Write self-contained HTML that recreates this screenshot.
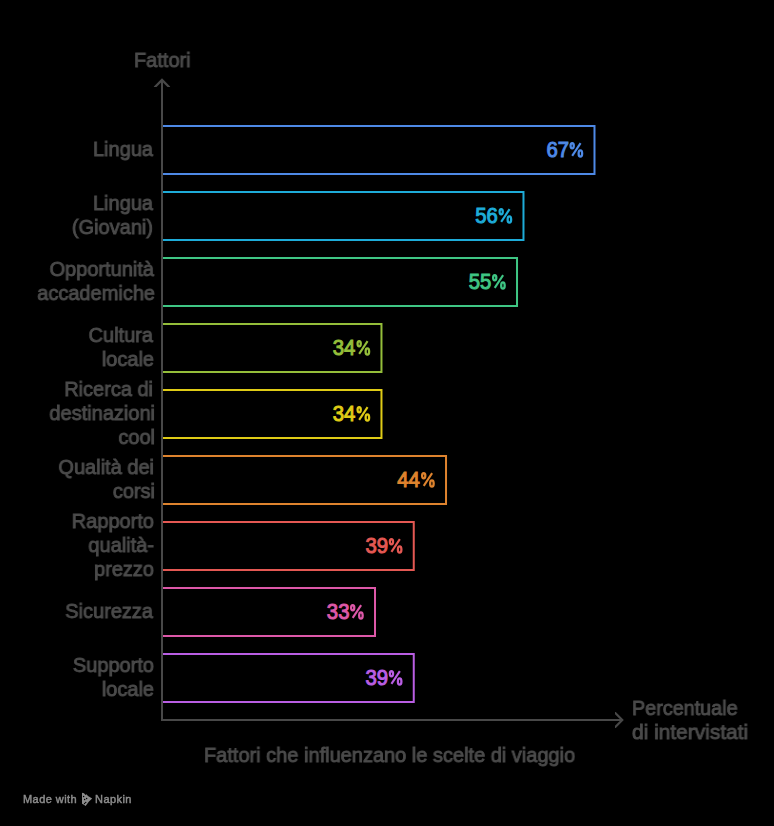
<!DOCTYPE html>
<html><head><meta charset="utf-8"><style>
html,body{margin:0;padding:0;background:#000;}
body{width:774px;height:826px;position:relative;overflow:hidden;font-family:"Liberation Sans",sans-serif;}
.lab,.t,.pct,.mw{will-change:transform;white-space:nowrap;position:absolute;}
.lab{width:300px;text-align:right;color:#4b4b4b;font-size:21.0px;line-height:24px;-webkit-text-stroke:0.9px #4b4b4b;transform:scaleX(0.952);transform-origin:100% 50%;}
.t{color:#4b4b4b;font-size:21.0px;line-height:24px;-webkit-text-stroke:0.9px #4b4b4b;transform:scaleX(0.952);transform-origin:0 50%;}
.pct{width:200px;text-align:right;font-size:21.5px;font-weight:bold;line-height:24px;transform:scaleX(0.865);transform-origin:100% 50%;}
.mw{font-size:11px;letter-spacing:0.45px;line-height:14px;color:#8c8c8c;-webkit-text-stroke:0.45px #8c8c8c;}
svg{position:absolute;left:0;top:0;}
</style></head><body>
<svg width="774" height="826" viewBox="0 0 774 826">
<path d="M161 126 H594.49 V174 H161" fill="none" stroke="#4E89E6" stroke-width="2"/><path d="M161 192 H523.48 V240 H161" fill="none" stroke="#1EABD8" stroke-width="2"/><path d="M161 258 H517.02 V306 H161" fill="none" stroke="#3FC684" stroke-width="2"/><path d="M161 324 H381.47 V372 H161" fill="none" stroke="#94BE3A" stroke-width="2"/><path d="M161 390 H381.47 V438 H161" fill="none" stroke="#DFCB16" stroke-width="2"/><path d="M161 456 H446.02 V504 H161" fill="none" stroke="#DE832E" stroke-width="2"/><path d="M161 522 H413.75 V570 H161" fill="none" stroke="#E45853" stroke-width="2"/><path d="M161 588 H375.01 V636 H161" fill="none" stroke="#DD58A8" stroke-width="2"/><path d="M161 654 H413.75 V702 H161" fill="none" stroke="#B95EE3" stroke-width="2"/>
<g stroke="#484848" stroke-width="2" fill="none" stroke-linejoin="miter" stroke-miterlimit="4">
<path d="M162 81 V721"/>
<path d="M161 720 H621"/>
</g>
<g fill="#484848">
<path d="M162 78.3 L170.1 86.4 L170.1 87 L167.5 87 L162 81.5 L156.5 87 L153.9 87 L153.9 86.4 Z"/>
<path d="M623.8 720 L615.8 712 L615 712 L615 714.2 L620.8 720 L615 725.8 L615 728 L615.8 728 Z"/>
</g>
<g font-family="Liberation Sans" font-weight="normal" font-size="21.5"><text transform="translate(546.53,157) scale(0.945,1)" fill="#4E89E6" stroke="#4E89E6" stroke-width="1.0">67</text><g fill="none" stroke="#4E89E6" stroke-width="2.3"><ellipse cx="572.18" cy="145.80" rx="1.6" ry="2.55"/><ellipse cx="580.38" cy="153.50" rx="1.75" ry="3.2"/><path d="M580.58 143.20 L572.18 155.90" stroke-width="2.1"/></g><text transform="translate(475.32,223) scale(0.945,1)" fill="#1EABD8" stroke="#1EABD8" stroke-width="1.0">56</text><g fill="none" stroke="#1EABD8" stroke-width="2.3"><ellipse cx="501.18" cy="211.80" rx="1.6" ry="2.55"/><ellipse cx="509.38" cy="219.50" rx="1.75" ry="3.2"/><path d="M509.58 209.20 L501.18 221.90" stroke-width="2.1"/></g><text transform="translate(468.66,289) scale(0.945,1)" fill="#3FC684" stroke="#3FC684" stroke-width="1.0">55</text><g fill="none" stroke="#3FC684" stroke-width="2.3"><ellipse cx="494.72" cy="277.80" rx="1.6" ry="2.55"/><ellipse cx="502.93" cy="285.50" rx="1.75" ry="3.2"/><path d="M503.12 275.20 L494.72 287.90" stroke-width="2.1"/></g><text transform="translate(332.70,355) scale(0.945,1)" fill="#94BE3A" stroke="#94BE3A" stroke-width="1.0">34</text><g fill="none" stroke="#94BE3A" stroke-width="2.3"><ellipse cx="359.17" cy="343.80" rx="1.6" ry="2.55"/><ellipse cx="367.37" cy="351.50" rx="1.75" ry="3.2"/><path d="M367.57 341.20 L359.17 353.90" stroke-width="2.1"/></g><text transform="translate(332.70,421) scale(0.945,1)" fill="#DFCB16" stroke="#DFCB16" stroke-width="1.0">34</text><g fill="none" stroke="#DFCB16" stroke-width="2.3"><ellipse cx="359.17" cy="409.80" rx="1.6" ry="2.55"/><ellipse cx="367.37" cy="417.50" rx="1.75" ry="3.2"/><path d="M367.57 407.20 L359.17 419.90" stroke-width="2.1"/></g><text transform="translate(397.25,487) scale(0.945,1)" fill="#DE832E" stroke="#DE832E" stroke-width="1.0">44</text><g fill="none" stroke="#DE832E" stroke-width="2.3"><ellipse cx="423.72" cy="475.80" rx="1.6" ry="2.55"/><ellipse cx="431.92" cy="483.50" rx="1.75" ry="3.2"/><path d="M432.12 473.20 L423.72 485.90" stroke-width="2.1"/></g><text transform="translate(365.58,553) scale(0.945,1)" fill="#E45853" stroke="#E45853" stroke-width="1.0">39</text><g fill="none" stroke="#E45853" stroke-width="2.3"><ellipse cx="391.44" cy="541.80" rx="1.6" ry="2.55"/><ellipse cx="399.65" cy="549.50" rx="1.75" ry="3.2"/><path d="M399.85 539.20 L391.44 551.90" stroke-width="2.1"/></g><text transform="translate(326.85,619) scale(0.945,1)" fill="#DD58A8" stroke="#DD58A8" stroke-width="1.0">33</text><g fill="none" stroke="#DD58A8" stroke-width="2.3"><ellipse cx="352.71" cy="607.80" rx="1.6" ry="2.55"/><ellipse cx="360.92" cy="615.50" rx="1.75" ry="3.2"/><path d="M361.12 605.20 L352.71 617.90" stroke-width="2.1"/></g><text transform="translate(365.58,685) scale(0.945,1)" fill="#B95EE3" stroke="#B95EE3" stroke-width="1.0">39</text><g fill="none" stroke="#B95EE3" stroke-width="2.3"><ellipse cx="391.44" cy="673.80" rx="1.6" ry="2.55"/><ellipse cx="399.65" cy="681.50" rx="1.75" ry="3.2"/><path d="M399.85 671.20 L391.44 683.90" stroke-width="2.1"/></g></g>
<path d="M82 792.8 L84 793.2 L85.5 795 L86.5 794.3 L88 796 L92.2 798.4 L89 801.5 L85.6 806 L83.5 804.5 L82 803.8 Z" fill="#8c8c8c"/><g fill="#000"><circle cx="83.6" cy="796.5" r="0.75"/><circle cx="86.6" cy="798.4" r="0.75"/><circle cx="84.6" cy="799.5" r="0.75"/><circle cx="85.7" cy="802.4" r="0.7"/><circle cx="84.6" cy="803.5" r="0.7"/></g>
</svg>
<div class="lab" style="top:137.12px;left:-146.75px">Lingua</div><div class="lab" style="top:191.12px;left:-146.84px">Lingua</div><div class="lab" style="top:215.12px;left:-146.67px">(Giovani)</div><div class="lab" style="top:257.12px;left:-145.79px">Opportunità</div><div class="lab" style="top:281.12px;left:-145.05px">accademiche</div><div class="lab" style="top:323.12px;left:-146.95px">Cultura</div><div class="lab" style="top:347.12px;left:-146.48px">locale</div><div class="lab" style="top:377.12px;left:-147.24px">Ricerca di</div><div class="lab" style="top:401.12px;left:-144.94px">destinazioni</div><div class="lab" style="top:425.12px;left:-145.22px">cool</div><div class="lab" style="top:455.12px;left:-146.49px">Qualità dei</div><div class="lab" style="top:479.12px;left:-145.04px">corsi</div><div class="lab" style="top:509.12px;left:-145.91px">Rapporto</div><div class="lab" style="top:533.12px;left:-145.79px">qualità-</div><div class="lab" style="top:557.12px;left:-146.28px">prezzo</div><div class="lab" style="top:599.12px;left:-147.42px">Sicurezza</div><div class="lab" style="top:653.12px;left:-145.94px">Supporto</div><div class="lab" style="top:677.12px;left:-146.03px">locale</div>
<div class="t" style="left:134px;top:47.72px">Fattori</div>
<div class="t" style="left:632px;top:695.92px;transform:scaleX(0.942)">Percentuale</div>
<div class="t" style="left:631.5px;top:719.92px;transform:scaleX(0.995)">di intervistati</div>
<div class="t" style="left:204px;top:743.42px">Fattori che influenzano le scelte di viaggio</div>
<div class="mw" style="left:23px;top:791.9px">Made with</div>
<div class="mw" style="left:95px;top:791.9px">Napkin</div>
</body></html>
